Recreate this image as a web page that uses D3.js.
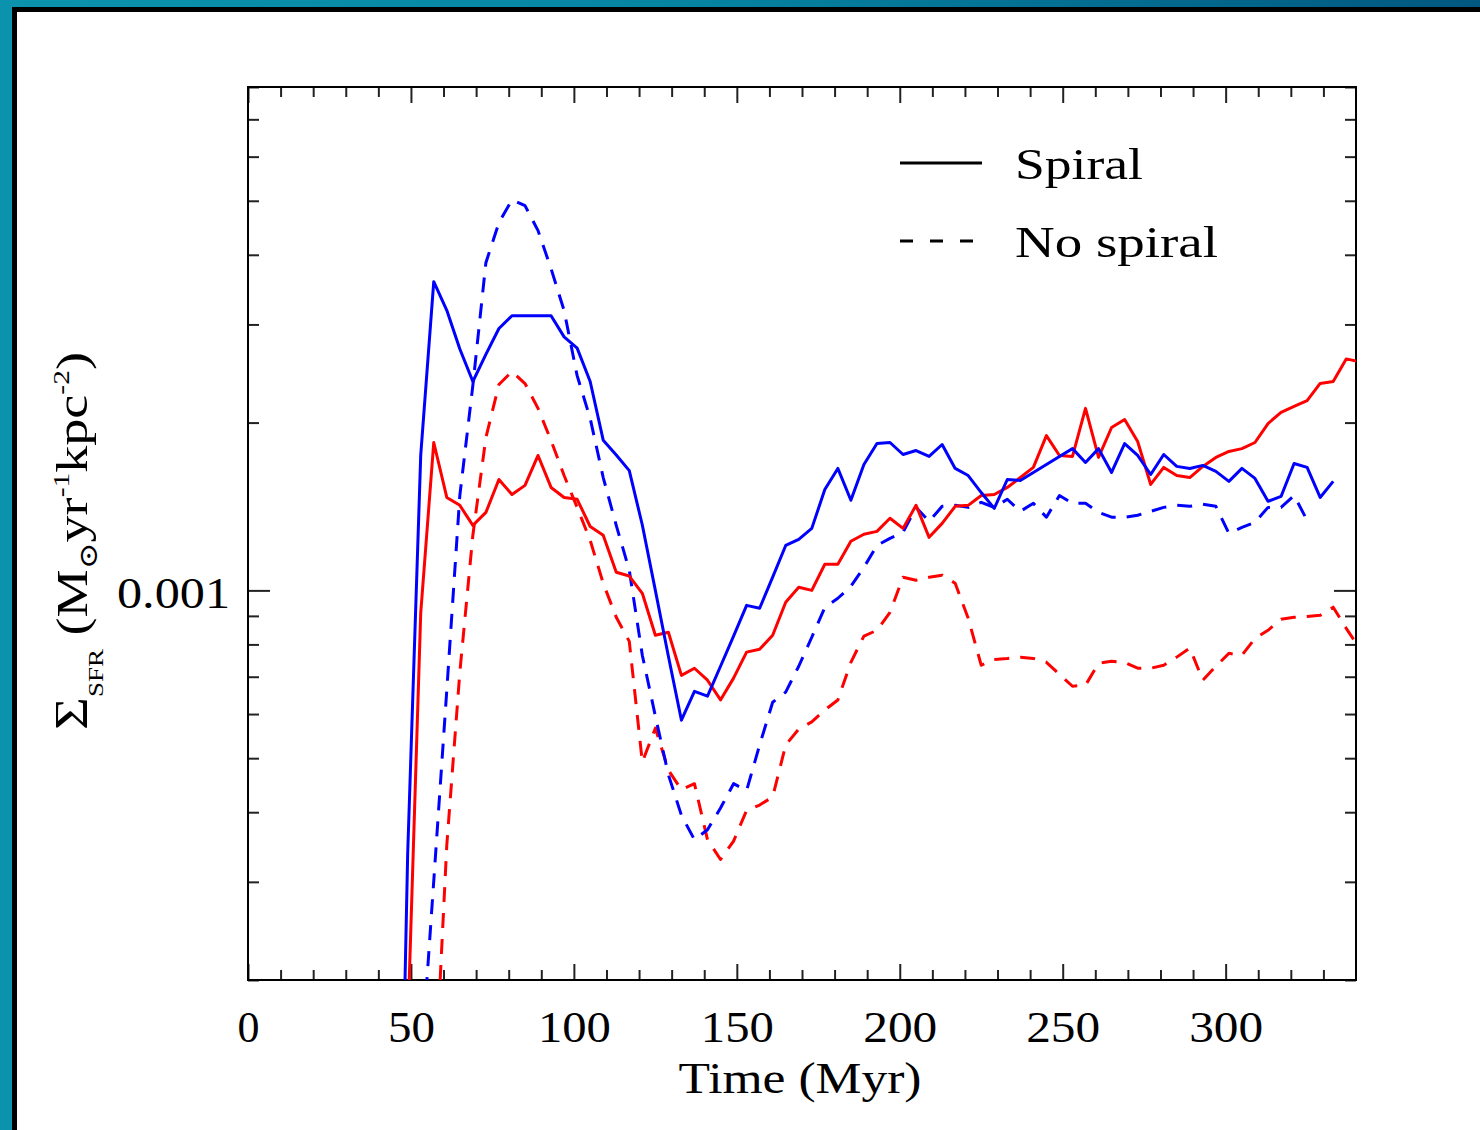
<!DOCTYPE html>
<html>
<head>
<meta charset="utf-8">
<script src="https://cdn.jsdelivr.net/npm/d3@7"></script>
<style>
  html, body { margin: 0; padding: 0; }
  body { width: 1480px; height: 1130px; overflow: hidden; }
  text { font-family: "Liberation Serif", "DejaVu Serif", serif; fill: #000; }
</style>
</head>
<body>
<svg id="viz"></svg>
<script>
// time samples (Myr)
const times = [
   45,  49,  53,  57,  61,  65,  69,  73,  77,  81,
   85,  89,  93,  97, 101, 105, 109, 113, 117, 121,
  125, 129, 133, 137, 141, 145, 149, 153, 157, 161,
  165, 169, 173, 177, 181, 185, 189, 193, 197, 201,
  205, 209, 213, 217, 221, 225, 229, 233, 237, 241,
  245, 249, 253, 257, 261, 265, 269, 273, 277, 281,
  285, 289, 293, 297, 301, 305, 309, 313, 317, 321,
  325, 329, 333, 337, 341
];

// SFR surface density, in units of 1e-3 Msun/yr/kpc^2
const blueSpiral = [
  0.026, 0.337, 1.746, 3.58, 3.18, 2.71, 2.37, 2.65, 2.95, 3.11,
  3.11, 3.11, 3.11, 2.85, 2.72, 2.37, 1.86, 1.75, 1.64, 1.31,
  1.00, 0.762, 0.585, 0.659, 0.646, 0.731, 0.828, 0.94, 0.929, 1.056,
  1.204, 1.235, 1.292, 1.517, 1.655, 1.451, 1.682, 1.834, 1.842, 1.753,
  1.782, 1.739, 1.827, 1.655, 1.607, 1.498, 1.403, 1.581, 1.575, 1.628,
  1.682, 1.739, 1.796, 1.696, 1.796, 1.628, 1.834, 1.746, 1.614, 1.753,
  1.669, 1.655, 1.676, 1.635, 1.569, 1.655, 1.588, 1.445, 1.474, 1.689,
  1.662, 1.468, 1.569, null, null
];

const redSpiral = [
  null, 0.163, 0.910, 1.842, 1.468, 1.421, 1.308, 1.38, 1.581, 1.486,
  1.543, 1.746, 1.53, 1.468, 1.457, 1.302, 1.256, 1.078, 1.061, 0.988,
  0.831, 0.841, 0.704, 0.725, 0.69, 0.636, 0.696, 0.775, 0.784, 0.831,
  0.952, 1.013, 1.0, 1.114, 1.114, 1.225, 1.261, 1.276, 1.347, 1.292,
  1.421, 1.245, 1.319, 1.415, 1.421, 1.48, 1.486, 1.53, 1.594, 1.662,
  1.895, 1.746, 1.739, 2.121, 1.732, 1.96, 2.026, 1.85, 1.549, 1.662,
  1.607, 1.594, 1.669, 1.732, 1.775, 1.796, 1.842, 1.992, 2.087, 2.138,
  2.19, 2.351, 2.37, 2.602, 2.573
];

const blueNoSpiral = [
  null, null, 0.138, 0.301, 0.662, 1.48, 2.332, 3.872, 4.569, 5.02,
  4.90, 4.42, 3.777, 3.177, 2.428, 2.035, 1.594, 1.308, 1.087, 0.765,
  0.595, 0.467, 0.395, 0.357, 0.372, 0.407, 0.45, 0.4375, 0.528, 0.63,
  0.657, 0.731, 0.824, 0.932, 0.968, 1.017, 1.10, 1.204, 1.24, 1.271,
  1.409, 1.33, 1.415, 1.421, 1.409, 1.439, 1.409, 1.457, 1.386, 1.433,
  1.353, 1.48, 1.433, 1.433, 1.38, 1.353, 1.353, 1.364, 1.386, 1.409,
  1.421, 1.415, 1.427, 1.415, 1.266, 1.297, 1.325, 1.409, 1.409, 1.48,
  1.336, null, null, null, null
];

const redNoSpiral = [
  null, null, null, 0.117, 0.349, 0.713, 1.256, 1.88, 2.341, 2.47,
  2.35, 2.121, 1.857, 1.607, 1.409, 1.23, 1.03, 0.895, 0.81, 0.492,
  0.566, 0.476, 0.439, 0.45, 0.357, 0.329, 0.355, 0.403, 0.412, 0.426,
  0.528, 0.564, 0.581, 0.61, 0.636, 0.743, 0.828, 0.848, 0.913, 1.056,
  1.043, 1.056, 1.065, 1.03, 0.891, 0.734, 0.752, 0.755, 0.759, 0.755,
  0.743, 0.707, 0.673, 0.676, 0.74, 0.746, 0.743, 0.725, 0.725, 0.734,
  0.759, 0.788, 0.69, 0.731, 0.771, 0.765, 0.82, 0.848, 0.888, 0.895,
  0.898, 0.902, 0.933, 0.855, 0.788
];

const xMajor = [0, 50, 100, 150, 200, 250, 300];
const xMinor = [10, 20, 30, 40, 60, 70, 80, 90, 110, 120, 130, 140, 160, 170, 180, 190,
                210, 220, 230, 240, 260, 270, 280, 290, 310, 320, 330];
const yMajor = [0.001];
const yMinor = [0.0002, 0.0003, 0.0004, 0.0005, 0.0006, 0.0007, 0.0008, 0.0009,
                0.002, 0.003, 0.004, 0.005, 0.006, 0.007, 0.008];
const xLabelWidth = { "0": 22, "50": 47, "100": 73, "150": 73, "200": 74, "250": 74, "300": 74 };

const width = 1480;
const height = 1130;
const margin = ({ top: 87, right: 124, bottom: 150, left: 248 });

const svg = d3.select("#viz")
    .attr("width", width)
    .attr("height", height)
    .attr("viewBox", [0, 0, width, height])
    .style("display", "block");

// page frame: teal backdrop, black rule, white paper
const grad = svg.append("defs").append("linearGradient")
    .attr("id", "teal")
    .attr("x1", 0).attr("x2", 1).attr("y1", 0).attr("y2", 0);
grad.append("stop").attr("offset", 0).attr("stop-color", "#0b93ad");
grad.append("stop").attr("offset", 0.45).attr("stop-color", "#0685a3");
grad.append("stop").attr("offset", 1).attr("stop-color", "#005880");

svg.append("rect").attr("width", width).attr("height", height).attr("fill", "url(#teal)");
svg.append("rect").attr("x", 12).attr("y", 7).attr("width", width).attr("height", height).attr("fill", "#000");
svg.append("rect").attr("x", 17).attr("y", 12).attr("width", width).attr("height", height).attr("fill", "#fff");

const x = d3.scaleLinear()
    .domain([0, 340])
    .range([margin.left, width - margin.right]);

const y = d3.scaleLog()
    .domain([2e-4, 8e-3])
    .range([height - margin.bottom, margin.top]);

svg.append("defs").append("clipPath")
    .attr("id", "plot-clip")
  .append("rect")
    .attr("x", margin.left)
    .attr("y", margin.top)
    .attr("width", width - margin.left - margin.right)
    .attr("height", height - margin.top - margin.bottom);

// axes: ticks point inward on all four sides
function styleTicks(g) {
    g.select(".domain").remove();
    g.selectAll(".tick line").attr("stroke", "#222").attr("stroke-width", 2);
}

svg.append("g")
    .attr("transform", `translate(0,${height - margin.bottom})`)
    .call(d3.axisBottom(x).tickValues(xMinor).tickSize(-10).tickFormat(""))
    .call(styleTicks);

svg.append("g")
    .attr("transform", `translate(0,${height - margin.bottom})`)
    .call(d3.axisBottom(x).tickValues(xMajor).tickSize(-16).tickPadding(31).tickFormat(d3.format("d")))
    .call(styleTicks)
    .call(g => g.selectAll(".tick text")
        .attr("font-family", null)
        .attr("font-size", 44)
        .attr("textLength", d => xLabelWidth[d])
        .attr("lengthAdjust", "spacingAndGlyphs"));

svg.append("g")
    .attr("transform", `translate(0,${margin.top})`)
    .call(d3.axisTop(x).tickValues(xMinor).tickSize(-10).tickFormat(""))
    .call(styleTicks);

svg.append("g")
    .attr("transform", `translate(0,${margin.top})`)
    .call(d3.axisTop(x).tickValues(xMajor).tickSize(-16).tickFormat(""))
    .call(styleTicks);

svg.append("g")
    .attr("transform", `translate(${margin.left},0)`)
    .call(d3.axisLeft(y).tickValues(yMinor).tickSize(-11).tickFormat(""))
    .call(styleTicks);

svg.append("g")
    .attr("transform", `translate(${margin.left},0)`)
    .call(d3.axisLeft(y).tickValues(yMajor).tickSize(-22).tickPadding(18).tickFormat(d3.format(".3f")))
    .call(styleTicks)
    .call(g => g.selectAll(".tick text")
        .attr("font-family", null)
        .attr("font-size", 44)
        .attr("dy", "0.38em")
        .attr("textLength", 113)
        .attr("lengthAdjust", "spacingAndGlyphs"));

svg.append("g")
    .attr("transform", `translate(${width - margin.right},0)`)
    .call(d3.axisRight(y).tickValues(yMinor).tickSize(-11).tickFormat(""))
    .call(styleTicks);

svg.append("g")
    .attr("transform", `translate(${width - margin.right},0)`)
    .call(d3.axisRight(y).tickValues(yMajor).tickSize(-22).tickFormat(""))
    .call(styleTicks);

svg.append("rect")
    .attr("x", margin.left)
    .attr("y", margin.top)
    .attr("width", width - margin.left - margin.right)
    .attr("height", height - margin.top - margin.bottom)
    .attr("fill", "none")
    .attr("stroke", "#000")
    .attr("stroke-width", 2);

// series
const line = d3.line()
    .defined(d => d[1] != null)
    .x(d => x(d[0]))
    .y(d => y(d[1] * 1e-3));

const series = [
    { values: redNoSpiral,  color: "#ff0000", dash: "15,11" },
    { values: blueNoSpiral, color: "#0000ff", dash: "15,11" },
    { values: redSpiral,    color: "#ff0000", dash: null },
    { values: blueSpiral,   color: "#0000ff", dash: null }
];

svg.append("g")
    .attr("clip-path", "url(#plot-clip)")
  .selectAll("path")
  .data(series)
  .join("path")
    .attr("fill", "none")
    .attr("stroke", d => d.color)
    .attr("stroke-width", 3)
    .attr("stroke-linejoin", "round")
    .attr("stroke-dasharray", d => d.dash)
    .attr("d", d => line(times.map((t, i) => [t, d.values[i]])));

// legend
const legend = [
    { label: "Spiral", dash: null, y: 163, w: 128 },
    { label: "No spiral", dash: "13,17", y: 241, w: 203 }
];

const lg = svg.append("g");
lg.selectAll("line")
  .data(legend)
  .join("line")
    .attr("x1", 900)
    .attr("x2", 982)
    .attr("y1", d => d.y)
    .attr("y2", d => d.y)
    .attr("stroke", "#000")
    .attr("stroke-width", 3)
    .attr("stroke-dasharray", d => d.dash);

lg.selectAll("text")
  .data(legend)
  .join("text")
    .attr("x", 1015)
    .attr("y", d => d.y + 16)
    .attr("font-size", 44)
    .attr("textLength", d => d.w)
    .attr("lengthAdjust", "spacingAndGlyphs")
    .text(d => d.label);

// axis titles
svg.append("text")
    .attr("x", 800)
    .attr("y", 1093)
    .attr("text-anchor", "middle")
    .attr("font-size", 44)
    .attr("textLength", 243)
    .attr("lengthAdjust", "spacingAndGlyphs")
    .text("Time (Myr)");

const yTitle = svg.append("text")
    .attr("transform", "translate(87,730) rotate(-90)")
    .attr("x", 0)
    .attr("y", 0)
    .attr("font-size", 44)
    .attr("textLength", 378)
    .attr("lengthAdjust", "spacingAndGlyphs");

const yTitleParts = [
    { t: "\u03A3", size: 46, dy: 0 },
    { t: "SFR", size: 22, dy: 16 },
    { t: " (M", size: 44, dy: -16 },
    { t: "\u2299", size: 26, dy: 10 },
    { t: "yr", size: 44, dy: -10 },
    { t: "-1", size: 24, dy: -18 },
    { t: "kpc", size: 44, dy: 18 },
    { t: "-2", size: 24, dy: -18 },
    { t: ")", size: 44, dy: 18 }
];

yTitle.selectAll("tspan")
  .data(yTitleParts)
  .join("tspan")
    .attr("font-size", d => d.size)
    .attr("dy", d => d.dy)
    .text(d => d.t);
</script>
</body>
</html>
